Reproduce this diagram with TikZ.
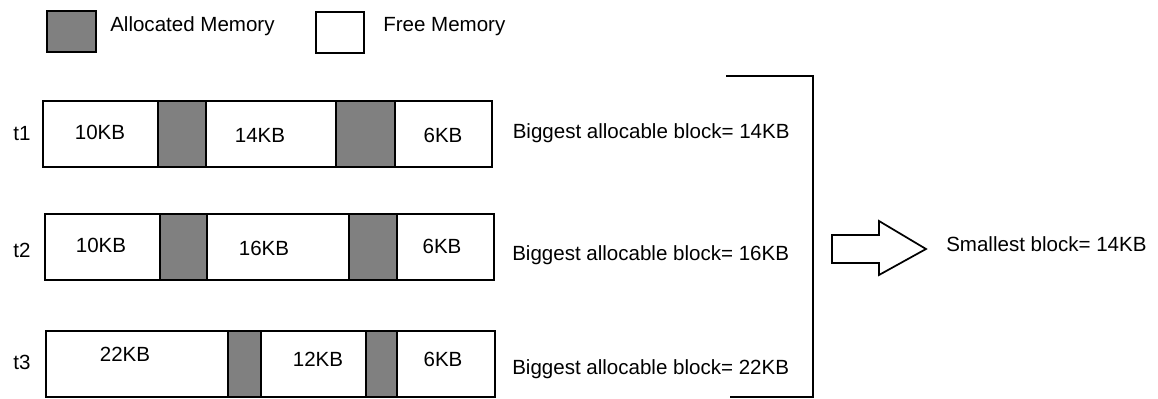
\documentclass[tikz,border=0pt]{standalone}
\usepackage{fontspec}
\setmainfont{Liberation Sans}
\definecolor{memgray}{HTML}{808080}
\tikzset{
  freeblk/.style={draw=black, fill=white, line width=1.5pt},
  allocblk/.style={draw=black, fill=memgray, line width=1.5pt},
  lbl/.style={anchor=base, inner sep=0pt, font=\fontsize{15.4}{18}\selectfont},
  lblw/.style={lbl, anchor=base west},
  brk/.style={draw=black, line width=1.5pt},
}
\begin{document}
\begin{tikzpicture}[x=0.75pt, y=-0.75pt]
\useasboundingbox (0,0) rectangle (1158,399);
% legend
\draw[allocblk] (47,11) rectangle (96,52);
\node[lblw] (legalloc) at (110,31.5) {Allocated Memory};
\draw[freeblk] (316,12) rectangle (364,53);
\node[lblw] (legfree) at (383,31.5) {Free Memory};
% row t1
\draw[freeblk] (43,101) rectangle (158,167);
\draw[allocblk] (158,101) rectangle (206,167);
\draw[freeblk] (206,101) rectangle (336,167);
\draw[allocblk] (336,101) rectangle (395,167);
\draw[freeblk] (395,101) rectangle (492,167);
\node[lbl] (ta) at (22,141) {t1};
\node[lbl] (a1) at (100,139.5) {10KB};
\node[lbl] (a2) at (260,143) {14KB};
\node[lbl] (a3) at (443,142.5) {6KB};
\node[lblw] (ba) at (512.5,138.5) {Biggest allocable block= 14KB};
% row t2
\draw[freeblk] (45,214) rectangle (160,280);
\draw[allocblk] (160,214) rectangle (207,280);
\draw[freeblk] (207,214) rectangle (349,280);
\draw[allocblk] (349,214) rectangle (397,280);
\draw[freeblk] (397,214) rectangle (494,280);
\node[lbl] (tb) at (22,258) {t2};
\node[lbl] (b1) at (101,253) {10KB};
\node[lbl] (b2) at (264,255.5) {16KB};
\node[lbl] (b3) at (442,254) {6KB};
\node[lblw] (bb) at (512,260.5) {Biggest allocable block= 16KB};
% row t3
\draw[freeblk] (46,331) rectangle (228,397);
\draw[allocblk] (228,331) rectangle (261,397);
\draw[freeblk] (261,331) rectangle (366,397);
\draw[allocblk] (366,331) rectangle (397,397);
\draw[freeblk] (397,331) rectangle (495,397);
\node[lbl] (tc) at (22,369.5) {t3};
\node[lbl] (c1) at (125,362) {22KB};
\node[lbl] (c2) at (318,366) {12KB};
\node[lbl] (c3) at (443,366) {6KB};
\node[lblw] (bc) at (512,374.5) {Biggest allocable block= 22KB};
% bracket
\coordinate (k1) at (726,76);
\coordinate (k2) at (813,76);
\coordinate (k3) at (813,397);
\coordinate (k4) at (730,397);
\draw[brk] (k1) -- (k2) -- (k3) -- (k4);
% block arrow
\draw[black, line width=1.3pt, fill=white, line join=miter]
  (832,235) -- (879,235) -- (879,221) -- (926,249) -- (879,275) -- (879,263) -- (832,263) -- cycle;
\node[lblw] (res) at (946,251.5) {Smallest block= 14KB};
\end{tikzpicture}
\end{document}
